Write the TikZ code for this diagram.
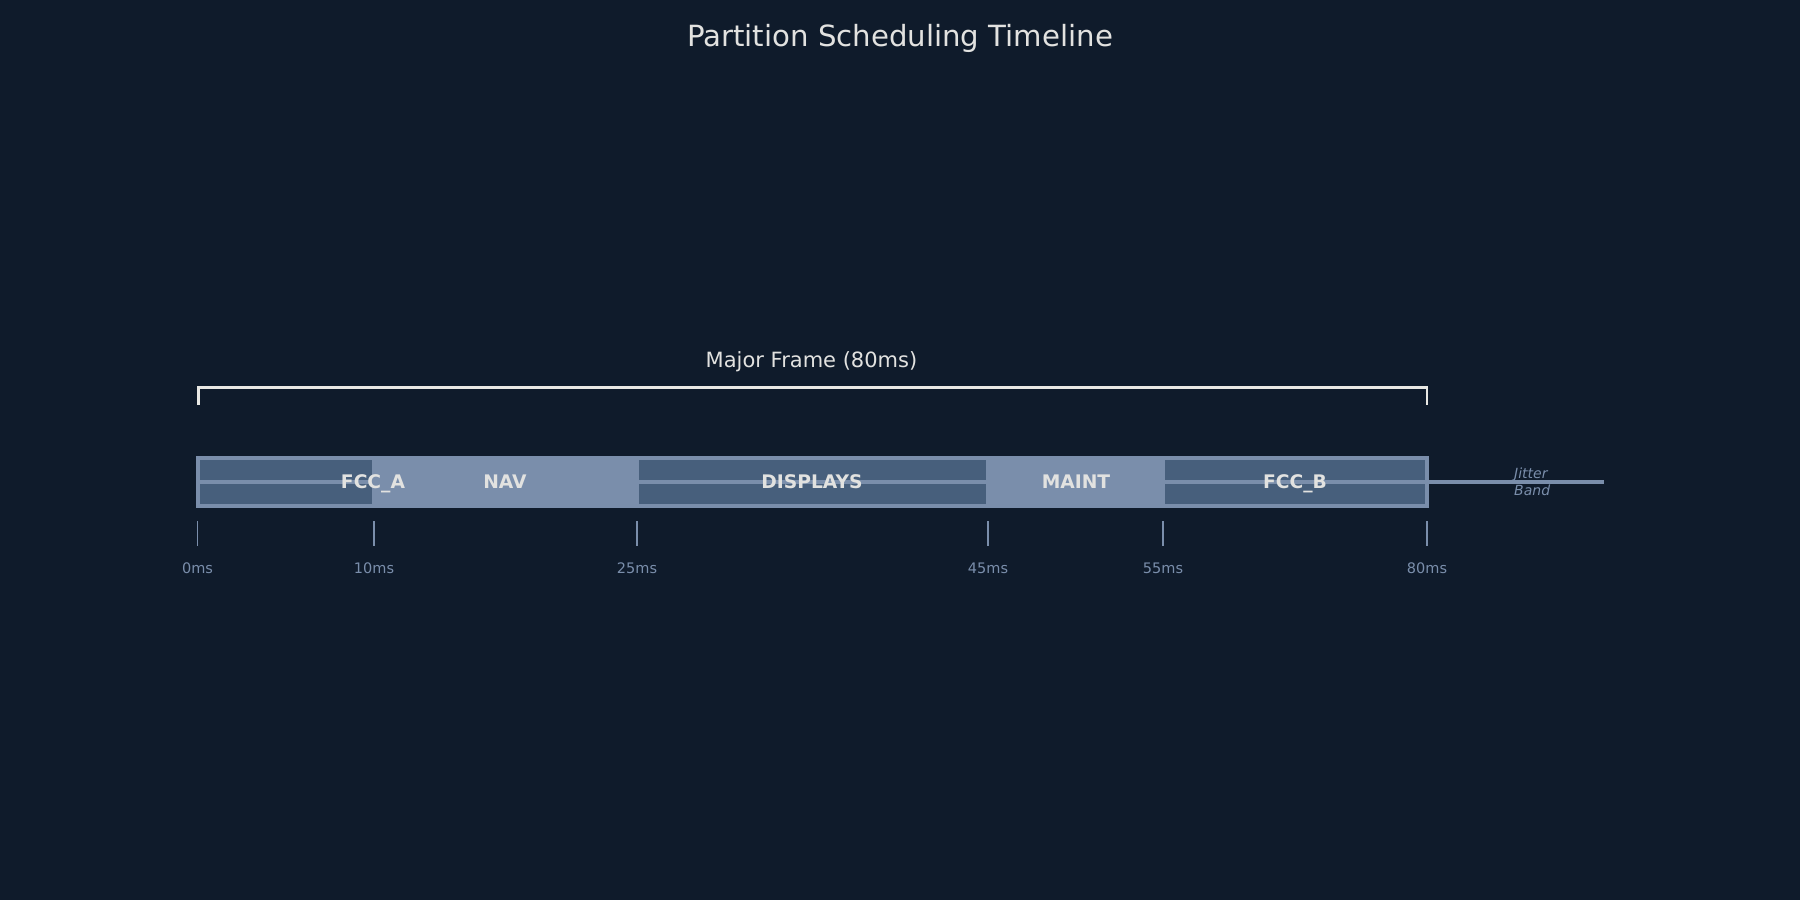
\documentclass[tikz,border=0pt]{standalone}
\usepackage{fontspec}
\setmainfont{DejaVu Sans}
\definecolor{bg}{HTML}{0F1B2B}
\definecolor{slot}{HTML}{7A8EAB}
\definecolor{slotdark}{HTML}{475F7C}
\definecolor{labeltext}{HTML}{E2E2E0}
\definecolor{bracketline}{HTML}{E8E8E4}
\begin{document}
\begin{tikzpicture}[x=1pt,y=-1pt]
\tikzstyle{every node}+=[inner sep=0pt]
\tikzstyle{partlabel}=[anchor=base, font=\fontsize{18.7}{18.7}\selectfont\bfseries, text=labeltext]
\tikzstyle{ticklabel}=[anchor=base, font=\fontsize{14.5}{14.5}\selectfont, text=slot]
\tikzstyle{jitterlabel}=[anchor=base west, font=\fontsize{14}{14}\selectfont\itshape, text=slot]
\fill [bg] (0,0) rectangle (1800,900);
\useasboundingbox (0,0) rectangle (1800,900);
\node (title) at (900,46.5) [anchor=base, font=\fontsize{29.2}{29.2}\selectfont, text=labeltext] {Partition Scheduling Timeline};
\draw [bracketline, line width=2.5pt] (198.5,405) -- (198.5,387.5) -- (1427,387.5) -- (1427,405);
\node (frame) at (811.5,367.5) [anchor=base, font=\fontsize{21}{21}\selectfont, text=labeltext] {Major Frame (80ms)};
\fill [slot] (196,456) rectangle (1429,508);
\fill [slotdark] (200,460) rectangle (372,504);
\fill [slotdark] (639,460) rectangle (986,504);
\fill [slotdark] (1165,460) rectangle (1425,504);
\draw [slot, line width=4pt] (200,482) -- (1604,482);
\node (fcca) at (373,488.5) [partlabel] {FCC\_A};
\node (nav) at (505,488.5) [partlabel] {NAV};
\node (displays) at (812,488.5) [partlabel] {DISPLAYS};
\node (maint) at (1076,488.5) [partlabel] {MAINT};
\node (fccb) at (1295,488.5) [partlabel] {FCC\_B};
\node (jitter) at (1514,478.5) [jitterlabel] {Jitter};
\node (band) at (1514,495) [jitterlabel] {Band};
\foreach \x/\t in {197.5/0,374/10,637/25,988/45,1163/55,1427/80} {
  \draw [slot, line width=1.5pt] (\x,521) -- (\x,546);
  \node (tick\t) at (\x,573.5) [ticklabel] {\t ms};
}
\end{tikzpicture}
\end{document}
